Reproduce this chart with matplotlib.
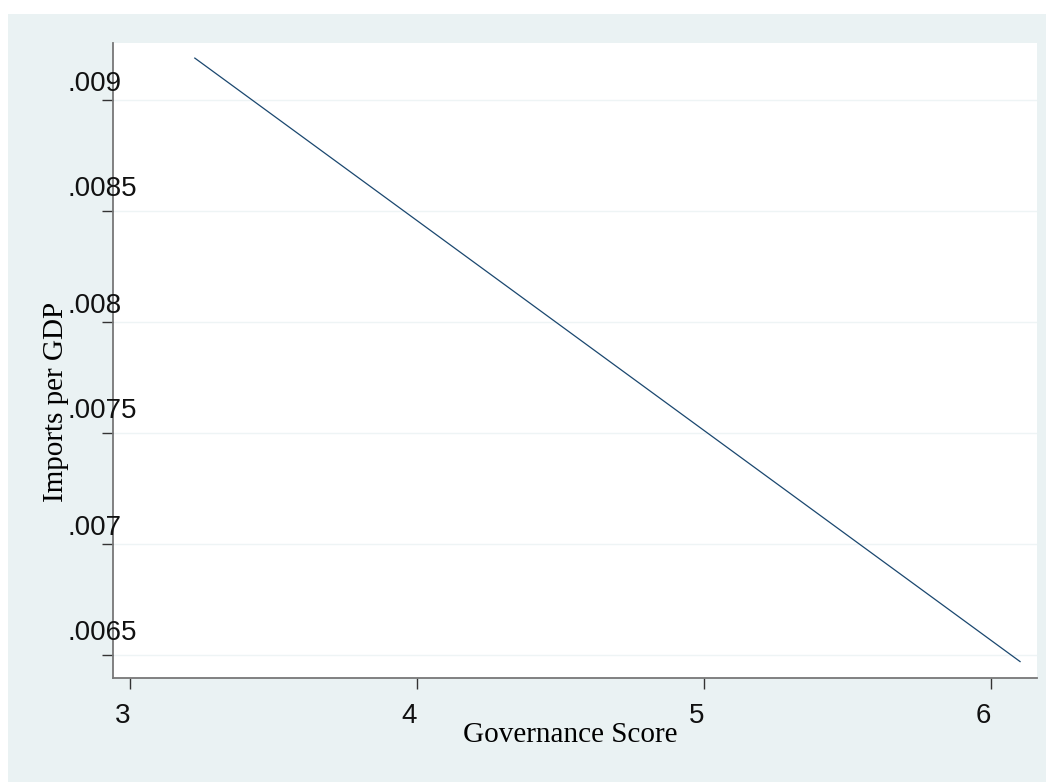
import matplotlib.pyplot as plt
from matplotlib.patches import Rectangle
from matplotlib.transforms import offset_copy

# ----------------------------
# Data
# ----------------------------
governance = [3.226, 6.101]
imports_gdp = [0.009189, 0.00647]

x_ticks = [3, 4, 5, 6]
x_tick_labels = ["3", "4", "5", "6"]
y_ticks = [0.0065, 0.007, 0.0075, 0.008, 0.0085, 0.009]
y_tick_labels = [".0065", ".007", ".0075", ".008", ".0085", ".009"]

BG = "#EAF2F3"
LINE = "#1A476F"
W, H = 1048, 782


def main():
    fig = plt.figure(figsize=(W / 100, H / 100), dpi=100)
    fig.patch.set_facecolor("white")
    # Stata-like outer region
    fig.add_artist(Rectangle((8 / W, 0), (1046 - 8) / W, (H - 14) / H,
                             transform=fig.transFigure, facecolor=BG,
                             edgecolor="none", zorder=-10))

    ax = fig.add_axes([113 / W, 1 - 678 / H, (1037 - 113) / W, (678 - 43) / H])
    ax.set_facecolor("white")

    ax.plot(governance, imports_gdp, color=LINE, linewidth=0.9)

    ax.set_xlim(2.941, 6.160)
    ax.set_ylim(0.006396, 0.009257)

    for s in ["top", "right"]:
        ax.spines[s].set_visible(False)
    for s in ["left", "bottom"]:
        ax.spines[s].set_color("#777777")
        ax.spines[s].set_linewidth(1.3)

    ax.set_yticks(y_ticks)
    ax.set_yticklabels([])
    ax.set_xticks(x_ticks)
    ax.set_xticklabels([])
    ax.tick_params(axis="both", length=8, width=1, color="#333333")
    ax.grid(axis="y", color="#EEF4F5", linewidth=1)
    ax.set_axisbelow(True)

    # x tick labels: right aligned at tick
    for v, lab in zip(x_ticks, x_tick_labels):
        ax.text(v, -0.04, lab, transform=ax.get_xaxis_transform(),
                ha="right", va="top", fontsize=20,
                family="Liberation Sans", color="#111111")

    # y tick labels sit above the tick, overlapping the axis
    for v, lab in zip(y_ticks, y_tick_labels):
        gap = 9 if len(lab) == 5 else 3
        tr = offset_copy(ax.get_yaxis_transform(), fig=fig, x=-45, y=gap, units="dots")
        ax.text(0, v, lab, transform=tr, ha="left", va="bottom",
                fontsize=20, family="Liberation Sans", color="#111111")

    ax.set_xlabel("Governance Score", fontsize=21, family="Liberation Serif")
    ax.xaxis.set_label_coords((570 - 113) / 924, (678 - 722) / 635)
    ax.set_ylabel("Imports per GDP", fontsize=21, family="Liberation Serif",
                  va="center")
    ax.yaxis.set_label_coords((56 - 113) / 924, (678 - 402) / 635)

    fig.savefig("out.png", dpi=100)


if __name__ == "__main__":
    main()
